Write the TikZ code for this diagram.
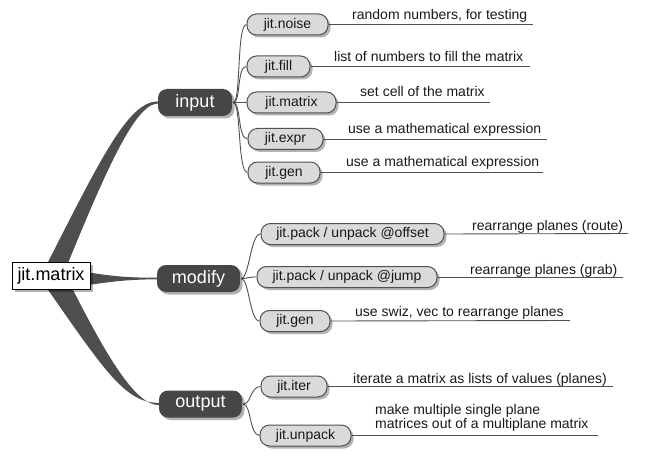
\documentclass[tikz,border=0pt]{standalone}
\usepackage{fontspec}
\setmainfont{Liberation Sans}
\usetikzlibrary{shadows}
\definecolor{darknode}{RGB}{70,70,70}
\definecolor{leaffill}{RGB}{218,218,218}
\definecolor{leafline}{RGB}{80,80,80}
\definecolor{wedgecol}{RGB}{78,78,78}
\definecolor{txt}{RGB}{25,25,25}
\pgfdeclarelayer{bg}
\pgfsetlayers{bg,main}
\begin{document}
\begin{tikzpicture}[x=1pt,y=-1pt,
  shade/.style={drop shadow={shadow xshift=2.5pt,shadow yshift=-2.5pt,opacity=0.3,fill=black}},
  rootbox/.style={draw=black,line width=1pt,fill=white,minimum width=78pt,minimum height=27pt,inner sep=0pt,font=\fontsize{18}{20}\selectfont,text=black,shade},
  mainbox/.style={fill=darknode,rounded corners=9pt,text=white,minimum height=27pt,inner sep=0pt,font=\fontsize{18}{20}\selectfont,shade},
  leafbox/.style={draw=leafline,line width=1pt,fill=leaffill,rounded corners=9.5pt,minimum height=21pt,inner sep=0pt,font=\fontsize{14}{16}\selectfont,text=txt,shade},
  desc/.style={font=\fontsize{14}{16}\selectfont,inner sep=0pt,text=txt},
  link/.style={draw=leafline,line width=0.9pt}]
\useasboundingbox (0,0) rectangle (652,457);
% root and main nodes
\node[rootbox] (root) at (51,275.5) {jit.matrix};
\node[mainbox,minimum width=74pt] (input) at (195,102.5) {input};
\node[mainbox,minimum width=83pt] (modify) at (198.5,278.5) {modify};
\node[mainbox,minimum width=83pt] (output) at (200.5,404) {output};
% leaves
\node[leafbox,minimum width=81pt] (noise) at (287.5,24.5) {jit.noise};
\node[leafbox,minimum width=63pt] (fill) at (278.5,66.5) {jit.fill};
\node[leafbox,minimum width=89pt] (lmatrix) at (291.5,102.5) {jit.matrix};
\node[leafbox,minimum width=75pt] (expr) at (285.5,139) {jit.expr};
\node[leafbox,minimum width=72pt] (gen) at (284,172.5) {jit.gen};
\node[leafbox,minimum width=183pt] (offset) at (352.5,234) {jit.pack / unpack @offset};
\node[leafbox,minimum width=180pt] (jump) at (347,277) {jit.pack / unpack @jump};
\node[leafbox,minimum width=70pt] (gentwo) at (295,321) {jit.gen};
\node[leafbox,minimum width=66pt] (iter) at (294,386.5) {jit.iter};
\node[leafbox,minimum width=91pt] (unpack) at (305.5,435.5) {jit.unpack};
% descriptions
\node[desc,anchor=base west] (dnoise) at (352,20) {random numbers, for testing};
\node[desc,anchor=base west] (dfill) at (334,61.7) {list of numbers to fill the matrix};
\node[desc,anchor=base west] (dmatrix) at (360,96.5) {set cell of the matrix};
\node[desc,anchor=base west] (dexpr) at (348,133.5) {use a mathematical expression};
\node[desc,anchor=base west] (dgen) at (346,166.5) {use a mathematical expression};
\node[desc,anchor=base west] (doffset) at (472,230.5) {rearrange planes (route)};
\node[desc,anchor=base west] (djump) at (470,274) {rearrange planes (grab)};
\node[desc,anchor=base west] (dgentwo) at (355,316) {use swiz, vec to rearrange planes};
\node[desc,anchor=base west] (diter) at (353,383) {iterate a matrix as lists of values (planes)};
\node[desc,anchor=west,align=left,font=\fontsize{14}{14.7}\selectfont] (dunpack) at (375,418) {make multiple single plane\\matrices out of a multiplane matrix};
% line ends
\coordinate (enoise) at (533,24.5);
\coordinate (efill) at (530,66.5);
\coordinate (ematrix) at (490,102.5);
\coordinate (eexpr) at (547,139);
\coordinate (egen) at (543,172.5);
\coordinate (eoffset) at (628,233.5);
\coordinate (ejump) at (623,277);
\coordinate (egentwo) at (570,320.5);
\coordinate (eiter) at (613,386.5);
\coordinate (eunpack) at (598,435.5);
\begin{pgfonlayer}{bg}
% tapered branches
\fill[wedgecol] (45,268) .. controls (100,160) and (128,101.5) .. ([yshift=1.1pt]input.west)
  -- ([yshift=-1.1pt]input.west) .. controls (136,103.6) and (108,165) .. (66,268) -- cycle;
\fill[wedgecol] (44,284) .. controls (104,370) and (125,402.9) .. ([yshift=1.1pt]output.west)
  -- ([yshift=-1.1pt]output.west) .. controls (135,405.1) and (106,355) .. (70,284) -- cycle;
\fill[wedgecol] (80,271) .. controls (105,275) and (120,277.8) .. ([yshift=0.8pt]modify.west)
  -- ([yshift=-0.8pt]modify.west) .. controls (120,279.5) and (105,283) .. (80,286) -- cycle;
% leaf links
\foreach \p/\l in {input/noise,input/fill,input/lmatrix,input/expr,input/gen,
                   modify/offset,modify/jump,modify/gentwo,output/iter,output/unpack}
  \draw[link] ([xshift=1pt]\p.east) .. controls +(8,0) and +(-10,0) .. (\l.west);
% description underlines
\foreach \l/\e in {noise/enoise,fill/efill,lmatrix/ematrix,expr/eexpr,gen/egen,
                   offset/eoffset,jump/ejump,gentwo/egentwo,iter/eiter,unpack/eunpack}
  \draw[link] (\l.east) -- (\e);
\end{pgfonlayer}
\end{tikzpicture}
\end{document}
